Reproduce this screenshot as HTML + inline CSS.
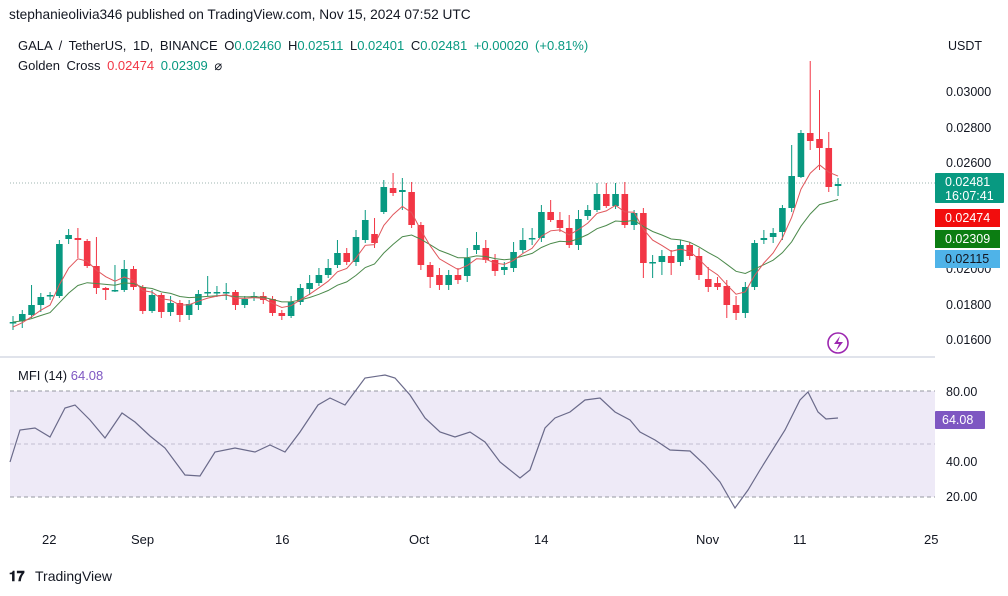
<!DOCTYPE html>
<html><head><meta charset="utf-8"><style>
body{margin:0;background:#fff;width:1008px;height:591px;overflow:hidden;font-family:"Liberation Sans",sans-serif;}
svg text{font-family:"Liberation Sans",sans-serif;}
</style></head><body>
<svg id="s" width="1008" height="591" xmlns="http://www.w3.org/2000/svg">
<rect width="1008" height="591" fill="#fff"/>
<text x="9" y="19" font-size="13.7" fill="#131722">stephanieolivia346 published on TradingView.com, Nov 15, 2024 07:52 UTC</text>
<text x="18" y="50" font-size="13" fill="#131722" word-spacing="3">GALA / TetherUS, 1D, BINANCE  O<tspan fill="#089981">0.02460</tspan>  H<tspan fill="#089981">0.02511</tspan>  L<tspan fill="#089981">0.02401</tspan>  C<tspan fill="#089981">0.02481</tspan>  <tspan fill="#089981">+0.00020 (+0.81%)</tspan></text>
<text x="18" y="70" font-size="13" fill="#131722" word-spacing="3">Golden Cross  <tspan fill="#f23645">0.02474</tspan>  <tspan fill="#089981">0.02309</tspan>  ⌀</text>
<text x="948" y="50" font-size="12.5" fill="#131722">USDT</text>
<g font-size="12.5" fill="#131722">
<text x="946" y="96">0.03000</text><text x="946" y="132">0.02800</text><text x="946" y="167">0.02600</text>
<text x="946" y="273">0.02000</text><text x="946" y="309">0.01800</text><text x="946" y="344">0.01600</text>
<text x="946" y="396">80.00</text><text x="946" y="466">40.00</text><text x="946" y="501">20.00</text>
</g>
<line x1="0" y1="357" x2="935" y2="357" stroke="#e0e3eb" stroke-width="2"/>
<rect x="10" y="391" width="925" height="106" fill="#eeeaf7"/>
<line x1="10" y1="391" x2="935" y2="391" stroke="#9598a1" stroke-dasharray="4,3"/>
<line x1="10" y1="444" x2="935" y2="444" stroke="#c3bfd0" stroke-dasharray="4,3"/>
<line x1="10" y1="497" x2="935" y2="497" stroke="#9598a1" stroke-dasharray="4,3"/>
<text x="18" y="380" font-size="13" fill="#131722">MFI (14)  <tspan fill="#7e57c2">64.08</tspan></text>
<line x1="10" y1="183" x2="935" y2="183" stroke="#9fb5b0" stroke-dasharray="1,2"/>
<g id="c"></g>
<g font-size="13" fill="#131722">
<text x="42" y="544">22</text><text x="131" y="544">Sep</text><text x="275" y="544">16</text><text x="409" y="544">Oct</text><text x="534" y="544">14</text><text x="696" y="544">Nov</text><text x="793" y="544">11</text><text x="924" y="544">25</text>
</g>
<rect x="935" y="173" width="69" height="30" fill="#089981" rx="1"/>
<text x="945" y="186" font-size="12.5" fill="#fff">0.02481</text><text x="945" y="200" font-size="12.5" fill="#fff">16:07:41</text>
<rect x="935" y="209" width="65" height="18" fill="#f20d0d"/><text x="945" y="222" font-size="12.5" fill="#fff">0.02474</text>
<rect x="935" y="230" width="65" height="18" fill="#0c7d12"/><text x="945" y="243" font-size="12.5" fill="#fff">0.02309</text>
<rect x="935" y="250" width="65" height="18" fill="#4fb3e8"/><text x="945" y="263" font-size="12.5" fill="#131722">0.02115</text>
<rect x="935" y="411" width="50" height="18" fill="#7e57c2" rx="1"/><text x="942" y="424" font-size="12.5" fill="#fff">64.08</text>
<circle cx="838" cy="343" r="10" fill="none" stroke="#9c27b0" stroke-width="1.6"/>
<path d="M840 336 L834 344 L839 344 L836 351 L843 342 L838 342 Z" fill="#9c27b0"/>
<text x="9" y="581" font-size="14" font-weight="bold" fill="#131722">𝟏𝟕</text>
<text x="35" y="581" font-size="14" fill="#131722">TradingView</text>
</svg>
<script>
var C=[[322,322,316,330],[321,314,310,328],[315,305,285,318],[305,297,293,312],[296,295,292,300],[296,244,240,298],[239,235,229,244],[238,240,228,258],[241,266,239,268],[266,288,237,294],[288,290,287,300],[290,290,265,292],[290,269,260,292],[269,287,266,290],[287,311,285,314],[311,295,290,313],[295,312,293,318],[312,303,296,316],[303,315,300,322],[315,304,300,320],[305,294,290,310],[293,292,276,296],[292,292,286,297],[292,292,283,300],[292,305,290,310],[305,299,296,308],[298,296,292,301],[296,300,292,304],[299,313,296,316],[313,316,310,320],[316,302,296,318],[302,288,284,305],[289,283,275,295],[283,275,268,286],[275,268,259,278],[265,253,240,268],[253,262,248,265],[262,237,230,266],[240,220,210,243],[234,243,218,248],[212,187,180,214],[188,193,173,196],[192,190,178,210],[192,225,182,228],[225,265,222,270],[265,277,262,288],[275,285,268,290],[285,275,270,290],[275,280,268,284],[276,258,248,282],[250,245,232,254],[248,260,240,263],[260,271,254,276],[270,267,262,275],[268,252,242,272],[250,240,228,253],[238,238,228,245],[238,212,205,242],[212,220,200,222],[220,228,212,232],[228,245,215,248],[245,219,210,250],[216,210,205,220],[210,194,183,212],[194,206,183,208],[206,194,183,209],[194,225,182,228],[225,213,210,230],[213,263,208,278],[262,262,255,278],[262,256,250,275],[256,263,250,275],[262,245,240,266],[245,256,242,260],[256,275,248,280],[279,287,267,292],[283,287,277,290],[286,305,280,318],[305,313,296,320],[313,287,282,318],[287,243,240,290],[240,238,230,244],[237,233,228,243],[232,208,205,240],[208,176,145,212],[177,133,130,178],[133,141,61,150],[139,148,90,170],[148,187,132,192],[186,184,178,196]];
var g=document.getElementById('c'),h='',x0=13,dx=9.27,r=[],gr=[],er=null,eg=null;
C.forEach(function(c,i){var x=x0+i*dx,up=c[1]<=c[0],col=up?'#089981':'#f23645';
var t=Math.min(c[0],c[1]),b=Math.max(c[0],c[1]);if(b-t<1.5)b=t+1.5;
h+='<line x1="'+x+'" y1="'+c[2]+'" x2="'+x+'" y2="'+c[3]+'" stroke="'+col+'" stroke-width="1"/>';
h+='<rect x="'+(x-3.3)+'" y="'+t+'" width="6.6" height="'+(b-t)+'" fill="'+col+'"/>';
er=er===null?c[1]+5:er+(c[1]-er)*2/6;eg=eg===null?c[1]:eg+(c[1]-eg)*2/14;r.push(x+','+er.toFixed(1));gr.push(x+','+eg.toFixed(1));});
var M=[[10,462],[20,430],[35,428],[50,437],[65,408],[75,405],[90,420],[105,438],[122,413],[135,422],[150,436],[165,448],[185,475],[200,476],[215,452],[235,448],[255,452],[270,445],[285,452],[300,432],[318,405],[330,398],[345,405],[365,378],[385,375],[395,378],[410,395],[425,418],[440,432],[455,437],[470,432],[485,442],[500,462],[520,478],[530,470],[545,428],[555,418],[570,412],[585,400],[600,398],[615,412],[630,420],[640,432],[655,440],[670,450],[690,451],[705,465],[720,482],[735,508],[748,490],[760,470],[785,430],[800,400],[808,392],[818,412],[826,419],[838,418]];
h+='<polyline points="'+gr.join(' ')+'" fill="none" stroke="#4c8a4c" stroke-width="1"/>';
h+='<polyline points="'+r.join(' ')+'" fill="none" stroke="#e0565b" stroke-width="1"/>';
h+='<polyline points="'+M.map(function(p){return p.join(',')}).join(' ')+'" fill="none" stroke="#6a6a8a" stroke-width="1.2"/>';
g.innerHTML=h;
</script>
</body></html>
